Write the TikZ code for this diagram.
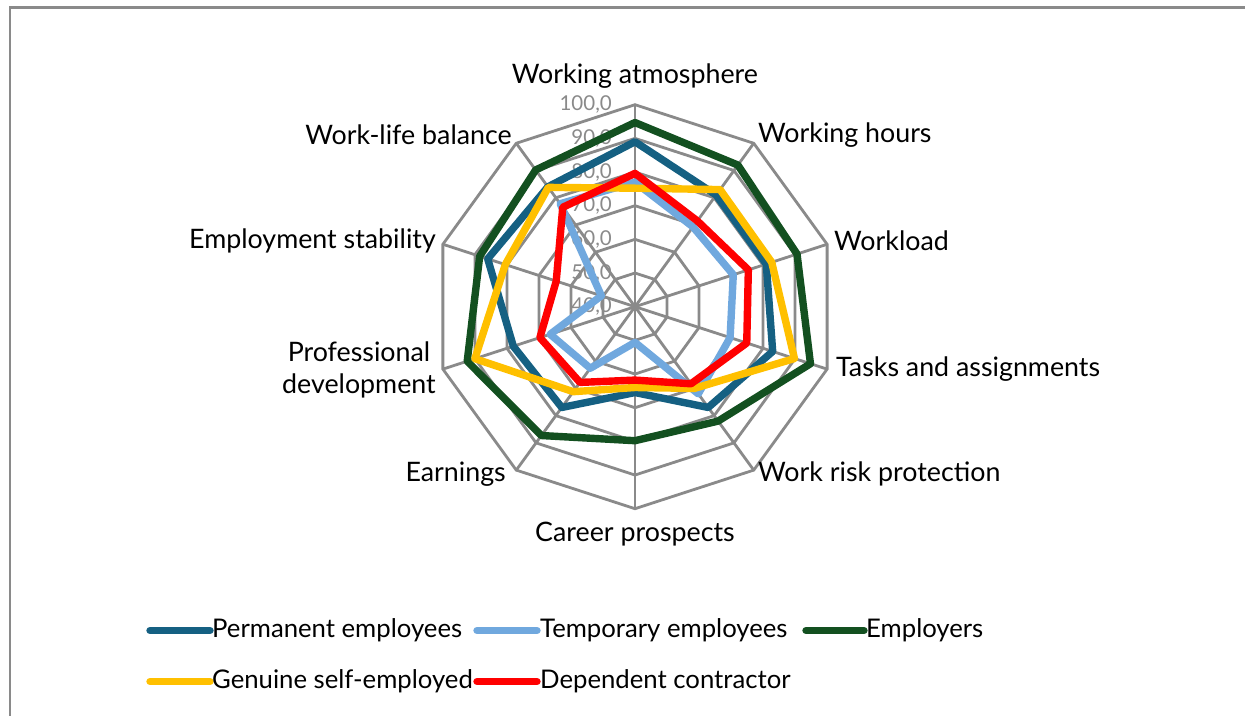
\documentclass[tikz,border=0pt]{standalone}
\usepackage{fontspec}
\setmainfont{Lato}
\definecolor{cPerm}{HTML}{156082}
\definecolor{cTemp}{HTML}{70A8DE}
\definecolor{cEmpl}{HTML}{135020}
\definecolor{cGen}{HTML}{FFC000}
\definecolor{cDep}{HTML}{FF0000}
\definecolor{cGrid}{HTML}{8A8A8A}
\newcommand\plotseries[3]{%
  \foreach \v [count=\i] in {#3} \coordinate (#1-\i) at ({126-36*\i}:{(\v-40)*\R/60});
  \draw[#2] (#1-1) \foreach \i in {2,...,10} { -- (#1-\i) } -- cycle;
}
\begin{document}
\begin{tikzpicture}[x=1pt,y=1pt,
  grid/.style={draw=cGrid, line width=2.8pt},
  series/.style={line width=7.4pt, line join=round},
  axlabel/.style={font=\fontsize{26.8}{32}\selectfont, inner sep=0pt, text=black},
  ticklab/.style={font=\fontsize{20.5}{24}\selectfont, inner sep=0pt, text=cGrid, anchor=east},
  legline/.style={line width=7.4pt, line cap=round},
  legtext/.style={font=\fontsize{25.7}{30}\selectfont, inner sep=0pt, anchor=west}]
\def\R{202}
\path[use as bounding box] (-635,-408.3) rectangle (610,306.7);
% frame
\draw[draw=cGrid, line width=2.8pt] (-625,-430) -- (-625,299.2) -- (640,299.2);
% grid rings
\foreach \k in {1,...,6}
  \draw[grid] (90:{\k*\R/6}) \foreach \j in {1,...,9} { -- ({90-36*\j}:{\k*\R/6}) } -- cycle;
\foreach \j in {0,...,9}
  \draw[grid] (0,0) -- ({90-36*\j}:\R);
% tick labels
\foreach \k in {0,...,6}
  \node[ticklab] (tick\k) at (-23,{\k*\R/6}) {\the\numexpr40+10*\k\relax,0};
% series
\plotseries{perm}{series, draw=cPerm}{89,81,81,83,77,65.5,77,78,86,84}
\plotseries{temp}{series, draw=cTemp}{77,69.3,70.7,69.7,72,50.6,62.6,66.5,50.5,77.8}
\plotseries{empl}{series, draw=cEmpl}{94.7,92,90.6,94.8,82,79.8,87.3,92.4,88.5,90.2}
\plotseries{gen}{series, draw=cGen}{75.2,83,82.7,89.8,70,64,71.2,90,80.5,83.8}
\plotseries{dep}{series, draw=cDep}{79.6,71.5,75.4,74.9,68.3,61.8,67.8,69.7,64.6,76.5}
% axis labels
\node[axlabel, anchor=center] (lWA) at (0,230.7) {Working atmosphere};
\node[axlabel, anchor=west] (lWH) at (123,171.7) {Working hours};
\node[axlabel, anchor=west] (lWL) at (199,65.7) {Workload};
\node[axlabel, anchor=west] (lTA) at (201,-62.3) {Tasks and assignments};
\node[axlabel, anchor=west] (lWR) at (123,-167.3) {Work risk protection};
\node[axlabel, anchor=center] (lCP) at (0,-227.3) {Career prospects};
\node[axlabel, anchor=east] (lEA) at (-129,-167.3) {Earnings};
\node[axlabel, anchor=east, align=center] (lPD) at (-199,-63.3) {Professional\\development};
\node[axlabel, anchor=east] (lES) at (-199,65.7) {Employment stability};
\node[axlabel, anchor=east] (lWB) at (-123,171.7) {Work-life balance};
% legend
\coordinate (a1) at (-485,-323.8); \coordinate (b1) at (-425,-323.8);
\coordinate (a2) at (-158,-323.8); \coordinate (b2) at (-98,-323.8);
\coordinate (a3) at (171,-323.8);  \coordinate (b3) at (229,-323.8);
\coordinate (a4) at (-485,-374.8); \coordinate (b4) at (-425,-374.8);
\coordinate (a5) at (-158,-374.8); \coordinate (b5) at (-98,-374.8);
\draw[legline, draw=cPerm] (a1) -- (b1);
\draw[legline, draw=cTemp] (a2) -- (b2);
\draw[legline, draw=cEmpl] (a3) -- (b3);
\draw[legline, draw=cGen] (a4) -- (b4);
\draw[legline, draw=cDep] (a5) -- (b5);
\node[legtext] (t1) at (-423,-323.8) {Permanent employees};
\node[legtext] (t2) at (-95,-323.8) {Temporary employees};
\node[legtext] (t3) at (231,-323.8) {Employers};
\node[legtext] (t4) at (-423,-374.8) {Genuine self-employed};
\node[legtext] (t5) at (-95,-374.8) {Dependent contractor};
\end{tikzpicture}
\end{document}
